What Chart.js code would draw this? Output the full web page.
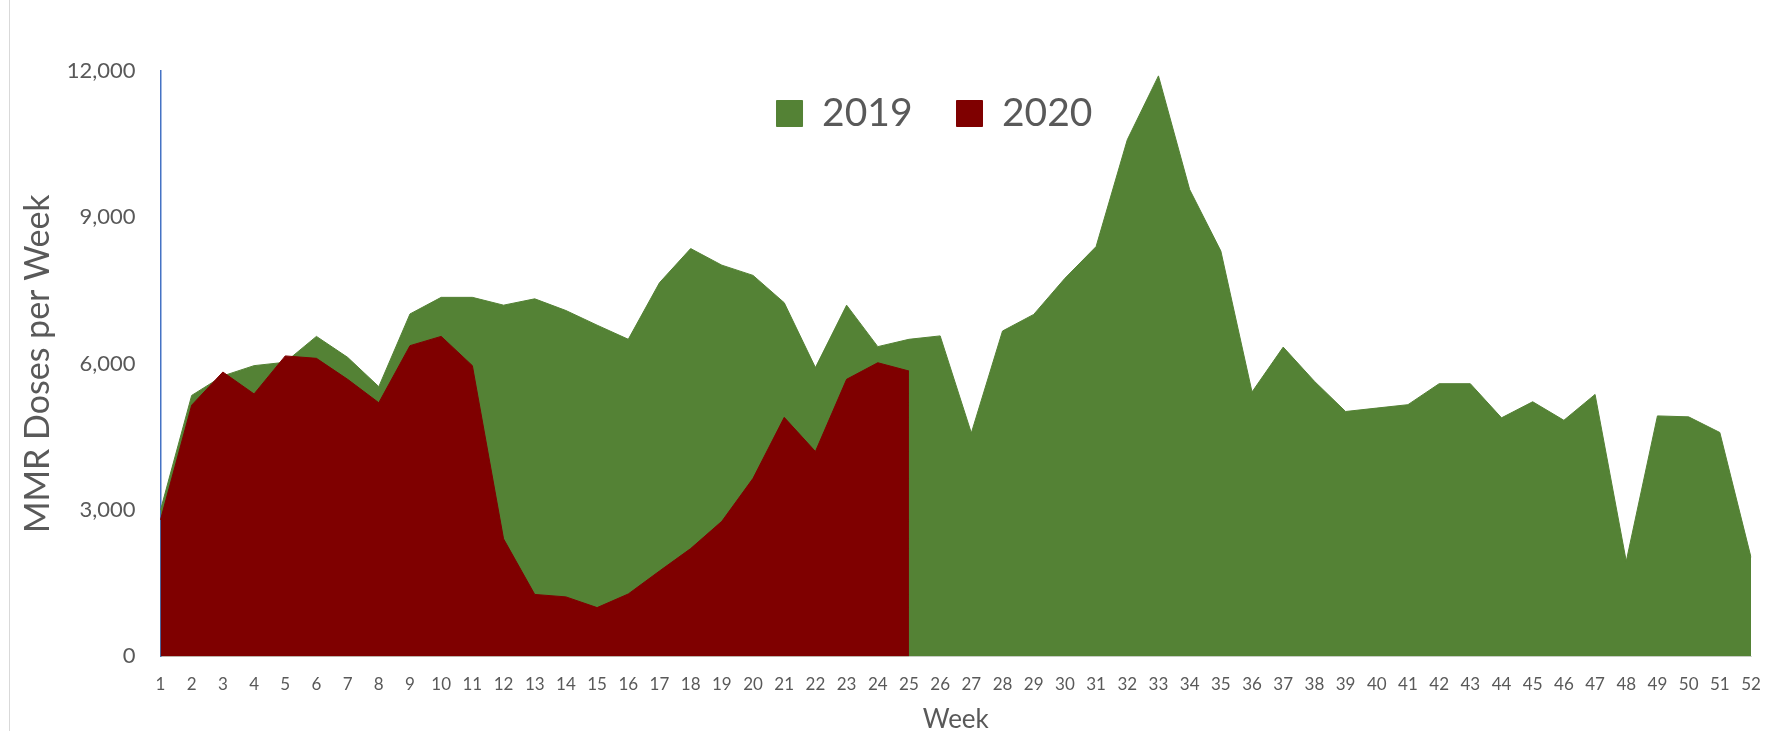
<!DOCTYPE html>
<html>
<head>
<meta charset="utf-8">
<script src="https://cdn.jsdelivr.net/npm/chart.js@4/dist/chart.umd.min.js"></script>
<style>
  html, body { margin: 0; padding: 0; background: #fff; }
  #wrap { position: relative; width: 1770px; height: 731px; }
  #edge { position: absolute; left: 9px; top: 0; width: 1px; height: 731px; background: #d9d9d9; }
</style>
</head>
<body>
<div id="wrap">
  <div id="edge"></div>
  <canvas id="chartMMR"></canvas>
</div>
<script>
// Weeks of the year
const weeks = [1, 2, 3, 4, 5, 6, 7, 8, 9, 10, 11, 12, 13, 14, 15, 16, 17, 18, 19, 20,
  21, 22, 23, 24, 25, 26, 27, 28, 29, 30, 31, 32, 33, 34, 35, 36, 37, 38, 39, 40,
  41, 42, 43, 44, 45, 46, 47, 48, 49, 50, 51, 52];

// MMR doses per week, 2019 (full year)
const doses2019 = [3000, 5350, 5750, 5960, 6030, 6560, 6130, 5530, 7020, 7360,
  7360, 7200, 7330, 7090, 6790, 6500, 7660, 8360, 8020, 7810,
  7250, 5920, 7200, 6350, 6500, 6570, 4580, 6670, 7010, 7750,
  8400, 10590, 11900, 9570, 8310, 5420, 6340, 5640, 5020, 5090,
  5160, 5590, 5590, 4890, 5220, 4840, 5370, 1950, 4930, 4910,
  4590, 2030];

// MMR doses per week, 2020 (through week 25)
const doses2020 = [2800, 5150, 5830, 5380, 6160, 6110, 5680, 5200, 6370, 6560,
  5960, 2410, 1270, 1220, 1000, 1280, 1750, 2210, 2770, 3650,
  4900, 4200, 5680, 6020, 5850];

const yTicks = [0, 3000, 6000, 9000, 12000];

const grey = '#595959';
const font = 'Lato, "Open Sans", sans-serif';

// legend sits inside the plot in the original: move it down after layout
const legendInside = {
  id: 'legendInside',
  afterLayout(chart) {
    const lg = chart.legend;
    lg.top = 50;
    lg.bottom = 50 + lg.height;
    lg.left += 44;
    lg.right += 44;
  }
};

new Chart(document.getElementById('chartMMR'), {
  type: 'line',
  data: {
    labels: weeks,
    datasets: [{
      label: '2019',
      data: doses2019,
      backgroundColor: '#548235',
      borderColor: '#548235',
      borderWidth: 1,
      fill: 'origin',
      pointRadius: 0,
      tension: 0,
      order: 2
    }, {
      label: '2020',
      data: doses2020,
      backgroundColor: '#7f0000',
      borderColor: '#7f0000',
      borderWidth: 1,
      fill: 'origin',
      pointRadius: 0,
      tension: 0,
      order: 1
    }]
  },
  options: {
    responsive: true,
    maintainAspectRatio: false,
    animation: false,
    layout: { padding: { top: -22, left: 14, right: 3, bottom: 0 } },
    plugins: {
      tooltip: { enabled: false },
      legend: {
        position: 'top',
        labels: {
          boxWidth: 26,
          boxHeight: 26,
          padding: 44,
          color: grey,
          font: { family: font, size: 39 },
          sort: (a, b) => a.datasetIndex - b.datasetIndex
        }
      }
    },
    scales: {
      x: {
        offset: false,
        afterFit: (scale) => { scale.paddingRight = 19; },
        grid: { display: false, drawTicks: false },
        border: { display: true, color: '#d9d9d9' },
        ticks: {
          color: grey, font: { family: font, size: 17 },
          padding: 18, maxRotation: 0, autoSkip: false
        },
        title: {
          display: true, text: 'Week', color: grey,
          font: { family: font, size: 26 }, padding: { top: -9, bottom: -4 }
        }
      },
      y: {
        min: 0,
        max: 12000,
        afterBuildTicks: (scale) => { scale.ticks = yTicks.map(v => ({ value: v })); },
        afterFit: (scale) => { scale.width = 146.5; },
        grid: { display: false, drawTicks: false },
        border: { display: true, color: '#4472c4', width: 1.5 },
        ticks: {
          color: grey, font: { family: font, size: 22 }, padding: 25,
          callback: (v) => v.toLocaleString('en-US')
        },
        title: {
          display: true, text: 'MMR Doses per Week', color: grey,
          font: { family: font, size: 34 }, padding: { top: 4, bottom: 4 }
        }
      }
    }
  },
  plugins: [legendInside]
});
</script>
</body>
</html>
